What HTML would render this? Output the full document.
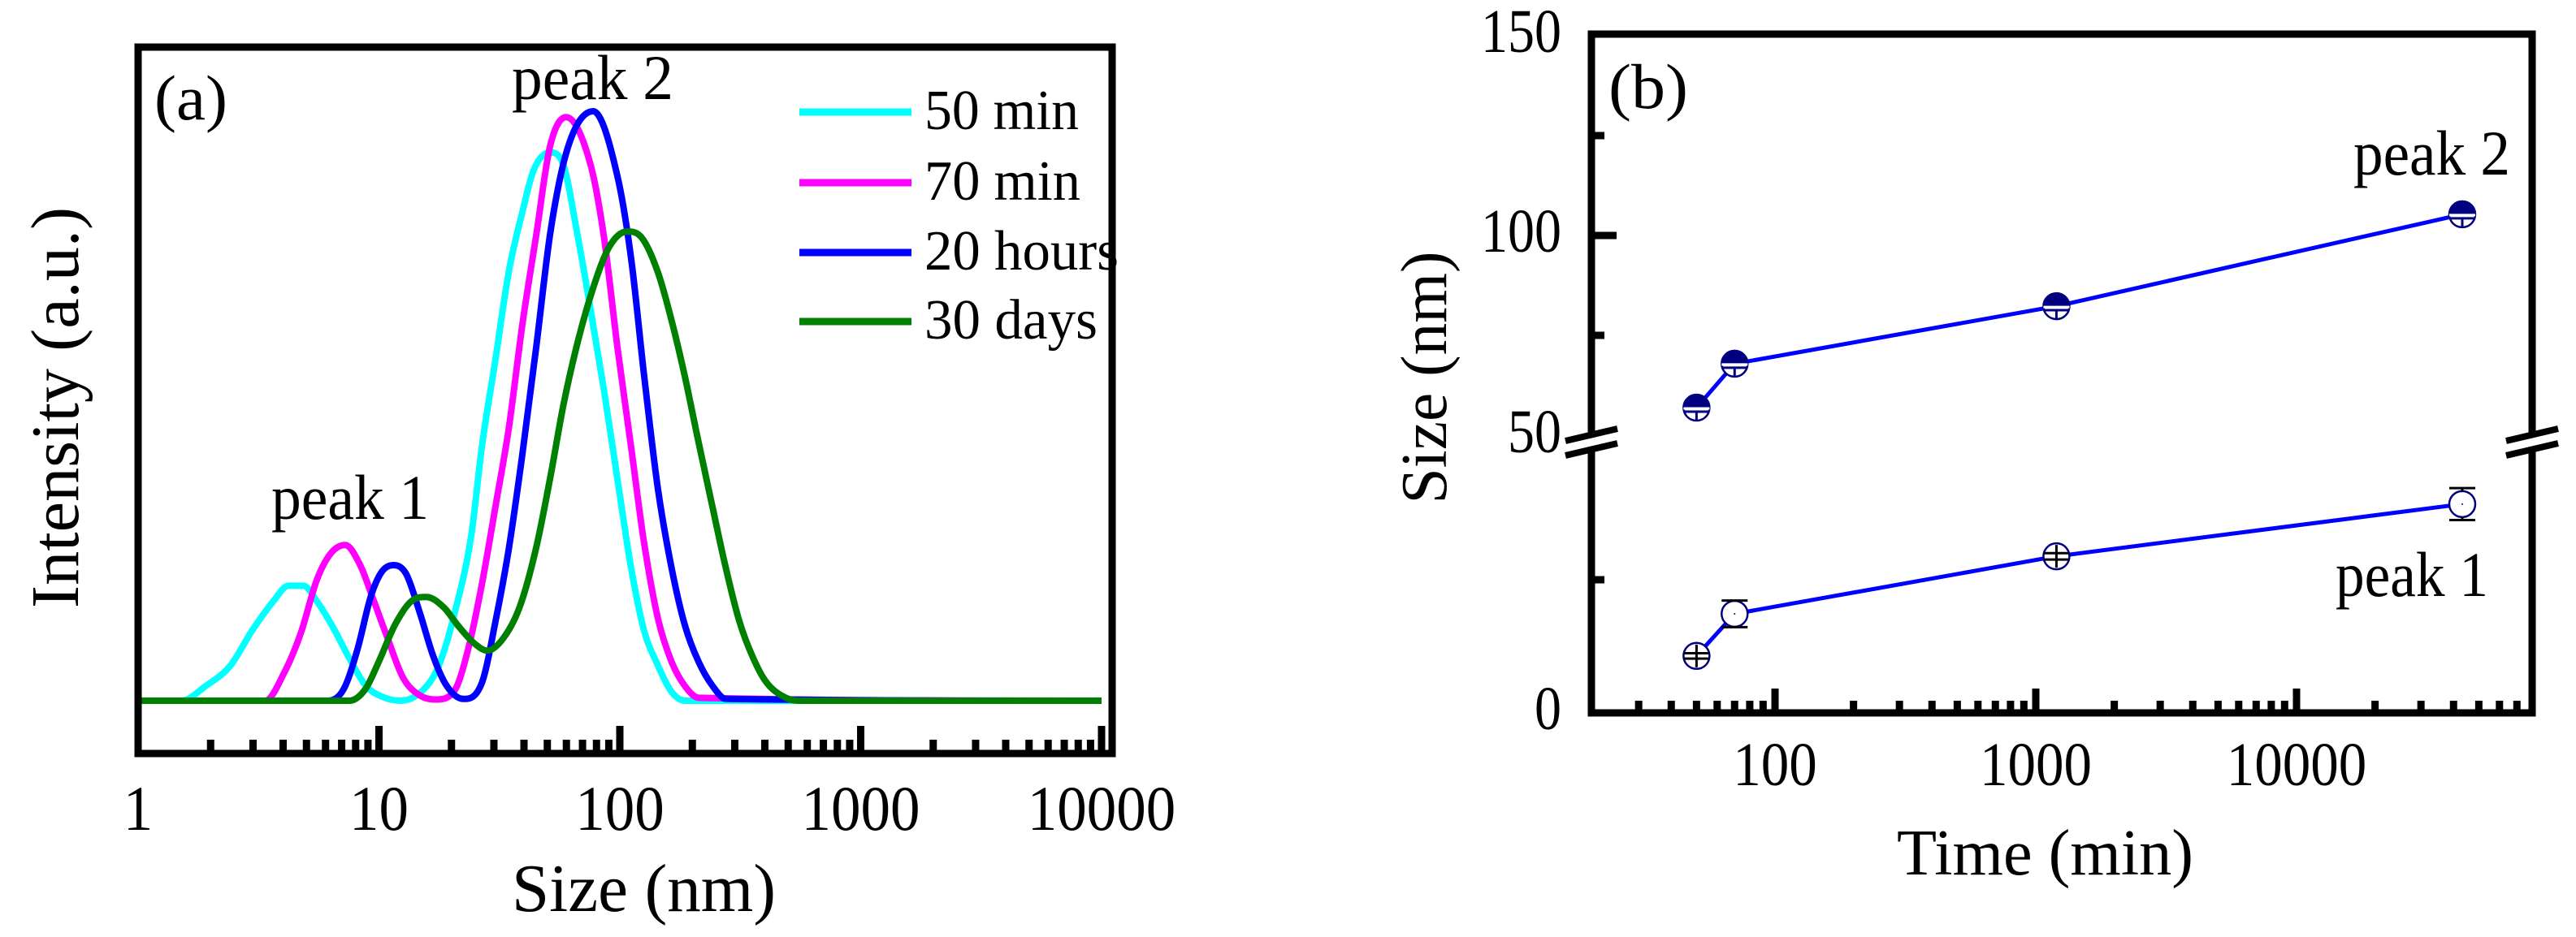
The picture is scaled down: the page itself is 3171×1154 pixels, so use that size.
<!DOCTYPE html>
<html>
<head>
<meta charset="utf-8">
<style>
  html, body { margin: 0; padding: 0; background: #ffffff; }
  svg { display: block; }
  text { font-family: "Liberation Serif", "Times New Roman", serif; fill: #000; }
</style>
</head>
<body>
<svg id="chart" xmlns="http://www.w3.org/2000/svg" width="3171" height="1154" viewBox="0 0 3171 1154">
  <rect x="0" y="0" width="3171" height="1154" fill="#ffffff"/>
  <g id="panelA">
    <g id="curvesA"></g>
    <g id="ticksA"></g>
    <rect x="170" y="58" width="1199" height="870" fill="none" stroke="#000" stroke-width="9"/>
    <text x="190" y="147" font-size="78" textLength="90" lengthAdjust="spacingAndGlyphs">(a)</text>
    <text x="630" y="122" font-size="78" textLength="199" lengthAdjust="spacingAndGlyphs">peak 2</text>
    <text x="334" y="639" font-size="78" textLength="194" lengthAdjust="spacingAndGlyphs">peak 1</text>
    <g id="legendA"></g>
    <text x="630" y="1122" font-size="84" textLength="325" lengthAdjust="spacingAndGlyphs">Size (nm)</text>
    <text transform="translate(96,502) rotate(-90)" x="0" y="0" text-anchor="middle" font-size="84" textLength="494" lengthAdjust="spacingAndGlyphs">Intensity (a.u.)</text>
  </g>
  <g id="panelB">
    <g id="ticksB"></g>
    <rect x="1959" y="42" width="1158" height="836" fill="none" stroke="#000" stroke-width="9"/>
    <g id="breaksB"></g>
    <g id="seriesB"></g>
    <text x="1980" y="133" font-size="78" textLength="98" lengthAdjust="spacingAndGlyphs">(b)</text>
    <text x="2897" y="215" font-size="78" textLength="193" lengthAdjust="spacingAndGlyphs">peak 2</text>
    <text x="2875" y="734" font-size="78" textLength="188" lengthAdjust="spacingAndGlyphs">peak 1</text>
    <text x="2335" y="1077" font-size="80" textLength="365" lengthAdjust="spacingAndGlyphs">Time (min)</text>
    <text transform="translate(1780,465) rotate(-90)" x="0" y="0" text-anchor="middle" font-size="80" textLength="311" lengthAdjust="spacingAndGlyphs">Size (nm)</text>
  </g>
</svg>
<script>
// ---------- Panel (a) data: log10(size / nm) and intensity (a.u.) ----------
const seriesNamesA = ["50 min", "70 min", "20 hours", "30 days"];
const seriesColorsA = ["#00ffff", "#ff00ff", "#0000ff", "#008000"];
const logSize50min = [0, 0.18, 0.281, 0.382, 0.472, 0.562, 0.624, 0.686, 0.742, 0.81, 0.877, 0.944, 1.012, 1.09, 1.18, 1.248, 1.315, 1.383, 1.427, 1.484, 1.54, 1.596, 1.642, 1.71, 1.765, 1.82, 1.878, 1.933, 1.99, 2.047, 2.10, 2.158, 2.215, 2.27, 4];
const intensity50min = [0, 0, 2.5, 5.9, 11.8, 16.9, 19.5, 19.5, 16.9, 12.4, 7.2, 2.6, 0.7, 0, 1.7, 5.9, 15, 28, 43, 58, 73, 83, 90, 93, 91, 80, 66.5, 53, 37.6, 22.5, 12, 6, 1.5, 0, 0];
const logSize70min = [0, 0.528, 0.607, 0.675, 0.742, 0.8, 0.86, 0.922, 0.978, 1.034, 1.1, 1.17, 1.237, 1.315, 1.37, 1.427, 1.484, 1.54, 1.596, 1.653, 1.71, 1.777, 1.878, 1.933, 1.99, 2.047, 2.10, 2.158, 2.215, 2.27, 2.327, 4];
const intensity70min = [0, 0, 4.8, 11.4, 20.5, 25, 26.4, 23, 17, 10.8, 3.9, 0.9, 0.2, 1.8, 8.7, 19.7, 33, 46.5, 64, 79, 94, 99, 91, 79, 60, 43, 27, 14, 6.6, 2.5, 0.5, 0];
const logSize20h = [0, 0.787, 0.854, 0.91, 0.967, 1.012, 1.062, 1.113, 1.169, 1.225, 1.28, 1.35, 1.427, 1.484, 1.54, 1.596, 1.653, 1.71, 1.765, 1.82, 1.889, 1.99, 2.047, 2.10, 2.158, 2.215, 2.27, 2.327, 2.385, 2.44, 4];
const intensity20h = [0, 0, 2, 8.6, 17.8, 21.9, 23, 21.5, 15, 7.6, 2.6, 0.3, 3, 13.5, 26, 42, 60, 79, 91, 97.5, 100, 89, 75, 55.5, 36, 22.5, 12.8, 6.6, 2.5, 0.3, 0];
const logSize30d = [0, 0.877, 0.944, 1.0, 1.068, 1.135, 1.197, 1.27, 1.327, 1.394, 1.45, 1.518, 1.585, 1.653, 1.71, 1.765, 1.82, 1.889, 1.956, 2.03, 2.09, 2.158, 2.215, 2.27, 2.327, 2.385, 2.44, 2.496, 2.553, 2.607, 2.675, 2.74, 4];
const intensity30d = [0, 0, 2, 6.7, 13, 16.9, 17.6, 15.8, 12.8, 9.8, 8.5, 10.7, 16, 26, 37.6, 50, 60, 70, 77, 79.6, 78.6, 72.7, 64.5, 55, 43.8, 32.8, 22.5, 13.5, 7.3, 3.2, 0.8, 0, 0];
const xTickLabelsA = ["1", "10", "100", "1000", "10000"];
const xTickValuesA = [1, 10, 100, 1000, 10000];

// ---------- Panel (b) data ----------
const timesB = [50, 70, 1200, 43200];
const peak2Size = [56.9, 67.9, 82.3, 105.3];
const peak2Err = [0.8, 0.8, 0.8, 0.8];
const peak1Size = [10.7, 18.6, 29.4, 39.2];
const peak1Err = [0.5, 2.5, 0.6, 3];
const xTickLabelsB = ["100", "1000", "10000"];
const xTickValuesB = [100, 1000, 10000];
const yTickLabelsB = ["0", "50", "100", "150"];
const yTickValuesB = [0, 50, 100, 150];
const yMinorTicksB = [25, 75, 125];

const NS = "http://www.w3.org/2000/svg";
function mk(tag, attrs, parent) {
  const e = document.createElementNS(NS, tag);
  for (const k in attrs) e.setAttribute(k, attrs[k]);
  parent.appendChild(e);
  return e;
}

// ---------- Axis functions ----------
function xA(logv) { return 170 + logv * 296.5; }
function yA(i) { return 863 - i * 7.26; }
function xB(t) { return 2185 + (Math.log10(t) - 2) * 321; }
function yB(v) { return v <= 50 ? 878 - v * 6.56 : 290 - (v - 100) * 4.92; }

function monoPath(xs, ys) {
  const n = xs.length;
  const m = [], t = new Array(n);
  for (let i = 0; i < n - 1; i++) m.push((ys[i + 1] - ys[i]) / (xs[i + 1] - xs[i]));
  t[0] = m[0]; t[n - 1] = m[n - 2];
  for (let i = 1; i < n - 1; i++) t[i] = (m[i - 1] * m[i] <= 0) ? 0 : (m[i - 1] + m[i]) / 2;
  for (let i = 0; i < n - 1; i++) {
    if (m[i] === 0) { t[i] = 0; t[i + 1] = 0; continue; }
    const a = t[i] / m[i], b = t[i + 1] / m[i], s = a * a + b * b;
    if (s > 9) { const tau = 3 / Math.sqrt(s); t[i] = tau * a * m[i]; t[i + 1] = tau * b * m[i]; }
  }
  let d = "M" + xs[0].toFixed(1) + "," + ys[0].toFixed(1);
  for (let i = 0; i < n - 1; i++) {
    const dx = xs[i + 1] - xs[i];
    d += " C" + (xs[i] + dx / 3).toFixed(1) + "," + (ys[i] + t[i] * dx / 3).toFixed(1) + " " +
      (xs[i + 1] - dx / 3).toFixed(1) + "," + (ys[i + 1] - t[i + 1] * dx / 3).toFixed(1) + " " +
      xs[i + 1].toFixed(1) + "," + ys[i + 1].toFixed(1);
  }
  return d;
}

// ---------- Panel (a) curves ----------
const curvesA = document.getElementById("curvesA");
const logSets = [logSize50min, logSize70min, logSize20h, logSize30d];
const intSets = [intensity50min, intensity70min, intensity20h, intensity30d];
const curveNames = ["curve-50-min", "curve-70-min", "curve-20-hours", "curve-30-days"];
for (let s = 0; s < 4; s++) {
  const p = mk("path", { d: monoPath(logSets[s].map(xA), intSets[s].map(yA)), fill: "none", stroke: seriesColorsA[s], "stroke-width": 8, "stroke-linejoin": "round" }, curvesA);
  
  
}

// ---------- Panel (a) ticks ----------
const ticksA = document.getElementById("ticksA");
for (let dec = 0; dec < 4; dec++) {
  for (let k = 2; k <= 10; k++) {
    const lv = dec + Math.log10(k);
    const len = (k === 10) ? 34 : 17;
    const tk = mk("line", { x1: xA(lv), x2: xA(lv), y1: 928, y2: 928 - len, stroke: "#000", "stroke-width": 9 }, ticksA);
    
    
  }
}
for (let i = 0; i < xTickLabelsA.length; i++) {
  const lab = xTickLabelsA[i];
  const tx = mk("text", { x: xA(Math.log10(xTickValuesA[i])), y: 1022, "font-size": 78, "text-anchor": "middle", textLength: lab.length * 36.5, lengthAdjust: "spacingAndGlyphs" }, ticksA);
  tx.textContent = lab;
  
  
}

// ---------- Legend ----------
const legendA = document.getElementById("legendA");
const legendYs = [138, 225, 311, 396];
const legendW = [190, 192, 239, 213];
for (let s = 0; s < 4; s++) {
  const ln = mk("line", { x1: 984, x2: 1122, y1: legendYs[s], y2: legendYs[s], stroke: seriesColorsA[s], "stroke-width": 9 }, legendA);
  
  
  const tx = mk("text", { x: 1138, y: legendYs[s] + 21, "font-size": 70, textLength: legendW[s], lengthAdjust: "spacingAndGlyphs" }, legendA);
  tx.textContent = seriesNamesA[s];
  
  
}

// ---------- Panel (b) ticks ----------
const ticksB = document.getElementById("ticksB");
for (let dec = 1; dec <= 4; dec++) {
  for (let k = 1; k <= 9; k++) {
    const t = k * Math.pow(10, dec);
    if (t < 30 || t > 70000) continue;
    const major = (k === 1);
    const tk = mk("line", { x1: xB(t), x2: xB(t), y1: 878, y2: 878 - (major ? 30 : 15), stroke: "#000", "stroke-width": 9 }, ticksB);
    
    
  }
}
for (let i = 0; i < xTickLabelsB.length; i++) {
  const lab = xTickLabelsB[i];
  const tx = mk("text", { x: xB(xTickValuesB[i]), y: 967, "font-size": 76, "text-anchor": "middle", textLength: lab.length * 34.5, lengthAdjust: "spacingAndGlyphs" }, ticksB);
  tx.textContent = lab;
  
  
}
for (let i = 0; i < yMinorTicksB.length; i++) {
  const yy = yB(yMinorTicksB[i]);
  const tk = mk("line", { x1: 1959, x2: 1975, y1: yy, y2: yy, stroke: "#000", "stroke-width": 9 }, ticksB);
  
  
}
{
  const tk = mk("line", { x1: 1959, x2: 1990, y1: yB(100), y2: yB(100), stroke: "#000", "stroke-width": 9 }, ticksB);
  
  
}
for (let i = 0; i < yTickLabelsB.length; i++) {
  const lab = yTickLabelsB[i];
  const v = yTickValuesB[i];
  const yy = (v === 50) ? 557 : yB(v) + 20;
  const tx = mk("text", { x: 1922, y: yy, "font-size": 76, "text-anchor": "end", textLength: lab.length * 33, lengthAdjust: "spacingAndGlyphs" }, ticksB);
  tx.textContent = lab;
  
  
}

// ---------- Axis breaks ----------
const breaksB = document.getElementById("breaksB");
[1959, 3117].forEach(function (cx) {
  const cy = 545;
  const gap = mk("polygon", { points: (cx - 32) + "," + (cy + 2) + " " + (cx + 32) + "," + (cy - 13) + " " + (cx + 32) + "," + (cy - 3) + " " + (cx - 32) + "," + (cy + 12), fill: "#ffffff" }, breaksB);
  
  
  const l1 = mk("line", { x1: cx - 32, y1: cy - 2, x2: cx + 32, y2: cy - 17, stroke: "#000", "stroke-width": 8 }, breaksB);
  
  
  const l2 = mk("line", { x1: cx - 32, y1: cy + 16, x2: cx + 32, y2: cy + 1, stroke: "#000", "stroke-width": 8 }, breaksB);
  
  
});

// ---------- Panel (b) series ----------
const seriesB = document.getElementById("seriesB");
const R = 16;
function polyPts(ts, vs) { return ts.map(function (t, i) { return xB(t).toFixed(1) + "," + yB(vs[i]).toFixed(1); }).join(" "); }
const line2 = mk("polyline", { points: polyPts(timesB, peak2Size), fill: "none", stroke: "#0000ff", "stroke-width": 5 }, seriesB);


const line1 = mk("polyline", { points: polyPts(timesB, peak1Size), fill: "none", stroke: "#0000ff", "stroke-width": 5 }, seriesB);



for (let i = 0; i < timesB.length; i++) {
  const cx = xB(timesB[i]), cy = yB(peak2Size[i]);
  const g = mk("g", {}, seriesB);
  
  
  mk("circle", { cx: cx, cy: cy, r: R, fill: "#ffffff", stroke: "#000080", "stroke-width": 2.5 }, g);
  mk("path", { d: "M" + (cx - R) + "," + cy + " A" + R + "," + R + " 0 0 1 " + (cx + R) + "," + cy + " Z", fill: "#000080" }, g);
  const eb = cy + peak2Err[i] * 4.92 + 1;
  mk("line", { x1: cx - R, x2: cx + R, y1: cy + 1, y2: cy + 1, stroke: "#ffffff", "stroke-width": 3 }, g);
  mk("line", { x1: cx - R, x2: cx + R, y1: eb, y2: eb, stroke: "#000080", "stroke-width": 3 }, g);
  mk("line", { x1: cx, x2: cx, y1: eb, y2: cy + R, stroke: "#000080", "stroke-width": 3 }, g);
}
for (let i = 0; i < timesB.length; i++) {
  const cx = xB(timesB[i]), cy = yB(peak1Size[i]);
  const yTop = yB(peak1Size[i] + peak1Err[i]), yBot = yB(peak1Size[i] - peak1Err[i]);
  const g = mk("g", {}, seriesB);
  
  
  mk("circle", { cx: cx, cy: cy, r: R, fill: "#ffffff", stroke: "#000080", "stroke-width": 2.5 }, g);
  const half = (yBot - yTop) / 2;
  if (half < R) {
    mk("line", { x1: cx, x2: cx, y1: cy - R + 2, y2: cy + R - 2, stroke: "#000", "stroke-width": 3 }, g);
  } else {
    mk("line", { x1: cx, x2: cx, y1: yTop, y2: cy - R, stroke: "#000", "stroke-width": 3 }, g);
    mk("line", { x1: cx, x2: cx, y1: cy + R, y2: yBot, stroke: "#000", "stroke-width": 3 }, g);
    mk("circle", { cx: cx, cy: cy, r: 1, fill: "#000080" }, g);
  }
  mk("line", { x1: cx - R, x2: cx + R, y1: yTop, y2: yTop, stroke: "#000", "stroke-width": 3 }, g);
  mk("line", { x1: cx - R, x2: cx + R, y1: yBot, y2: yBot, stroke: "#000", "stroke-width": 3 }, g);
}
</script>
</body>
</html>
